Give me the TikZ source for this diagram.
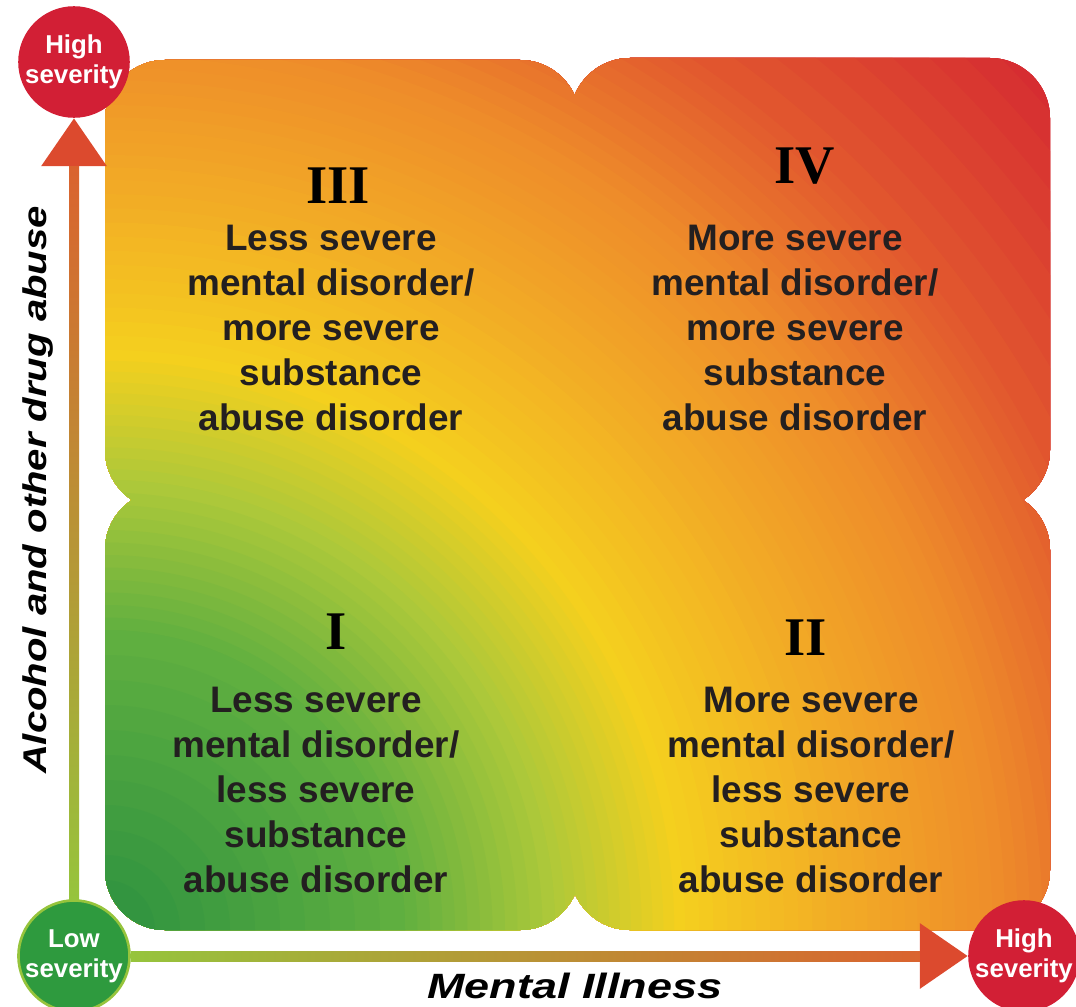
\documentclass[tikz,border=0pt]{standalone}
\usepackage{fontspec}
\setmainfont{Liberation Sans}
\newfontfamily\romanfont{Liberation Serif}
\usetikzlibrary{arrows.meta,calc}

\definecolor{sevgreen}{HTML}{2A9040}
\definecolor{sevlgreen}{HTML}{5FAF40}
\definecolor{sevlime}{HTML}{ACC83A}
\definecolor{sevyellow}{HTML}{F4D01E}
\definecolor{sevgold}{HTML}{F2AA26}
\definecolor{sevorange}{HTML}{EE8C2A}
\definecolor{sevorred}{HTML}{E25A2E}
\definecolor{sevred}{HTML}{D21E32}
\definecolor{axgreen}{HTML}{96C43C}
\definecolor{axyellow}{HTML}{D2C834}
\definecolor{axred}{HTML}{DC4A2E}
\definecolor{lowfill}{HTML}{2E9A3E}
\definecolor{highfill}{HTML}{D21F35}
\definecolor{inkgray}{HTML}{231F20}

\pgfdeclarelayer{quads}
\pgfdeclarelayer{axes}
\pgfsetlayers{quads,axes,main}

\tikzset{
  quadtext/.style={align=center, text=inkgray, font=\bfseries\fontsize{21}{25.5}\selectfont},
  numeral/.style={text=black, font=\romanfont\bfseries\fontsize{31}{31}\selectfont},
  sevdot/.style={circle, minimum size=2.2cm, inner sep=0pt, align=center, text=white,
    font=\bfseries\fontsize{14.7}{17}\selectfont},
  highdot/.style={sevdot, fill=highfill},
  lowdot/.style={sevdot, fill=lowfill, draw=axgreen, line width=1.5pt},
  axisline/.style={draw=axred, line width=0.2cm, -{Triangle[length=0.96cm, width=1.26cm]}},
  axisname/.style={font=\bfseries\itshape\fontsize{18.7}{20}\selectfont, xscale=1.22}
}

\begin{document}
\begin{tikzpicture}[x=0.02cm, y=-0.02cm]
\useasboundingbox (0,0) rectangle (1076,1007);

% the four fields, shaded out from the low corner
\begin{pgfonlayer}{quads}
\begin{scope}
  \clip[rounded corners=1.2cm] (105,60) rectangle (580,510) (570,58) rectangle (1050,510)
    (105,490) rectangle (580,930) (570,490) rectangle (1050,930)
    (520,450) rectangle (630,550);
  \coordinate (lowcorner) at (105,930);
  \foreach \ra/\rb/\ca/\cb in {1350/1050/sevred/sevorred, 1050/900/sevorred/sevorange,
      900/750/sevorange/sevgold, 750/580/sevgold/sevyellow, 580/450/sevyellow/sevlime,
      450/300/sevlime/sevlgreen, 300/0/sevlgreen/sevgreen}
    \foreach \i in {0,...,12}
    {
      \pgfmathsetmacro\rad{\ra+(\rb-\ra)*\i/12}
      \pgfmathsetmacro\pct{100*\i/12}
      \fill[\cb!\pct!\ca] (lowcorner) circle[radius=\rad];
    }
\end{scope}
\end{pgfonlayer}

% severity dots
\node[highdot] (hightop) at (74,62) {High\\severity};
\node[lowdot] (low) at (74,956) {Low\\severity};
\node[highdot] (highright) at (1024,956) {High\\severity};

% axes
\begin{pgfonlayer}{axes}
\draw[axisline] (low) -- (hightop);
\shade[bottom color=axgreen, middle color=axyellow, top color=axred!80!axyellow]
  ($(low.north)+(-5,0)$) rectangle ($(hightop.south)+(5,48)$);
\draw[axisline] (low) -- (highright);
\shade[left color=axgreen, middle color=axyellow, right color=axred!80!axyellow]
  ($(low.east)+(0,-5)$) rectangle ($(highright.west)+(-48,5)$);
\end{pgfonlayer}

\node[axisname, font=\bfseries\itshape\fontsize{20}{22}\selectfont, xscale=1.05] (xname) at (575,986) {Mental Illness};
\node[rotate=90, axisname] (yname) at (38,490) {Alcohol and other drug abuse};

% quadrants
\node[numeral] (n3) at (338,186) {III};
\node[quadtext] (t3) at (331,328) {Less severe\\mental disorder/\\more severe\\substance\\abuse disorder};
\node[numeral] (n4) at (805,166) {IV};
\node[quadtext] (t4) at (795,328) {More severe\\mental disorder/\\more severe\\substance\\abuse disorder};
\node[numeral] (n1) at (336,632) {I};
\node[quadtext] (t1) at (316,790) {Less severe\\mental disorder/\\less severe\\substance\\abuse disorder};
\node[numeral] (n2) at (806,638) {II};
\node[quadtext] (t2) at (811,790) {More severe\\mental disorder/\\less severe\\substance\\abuse disorder};
\end{tikzpicture}
\end{document}
